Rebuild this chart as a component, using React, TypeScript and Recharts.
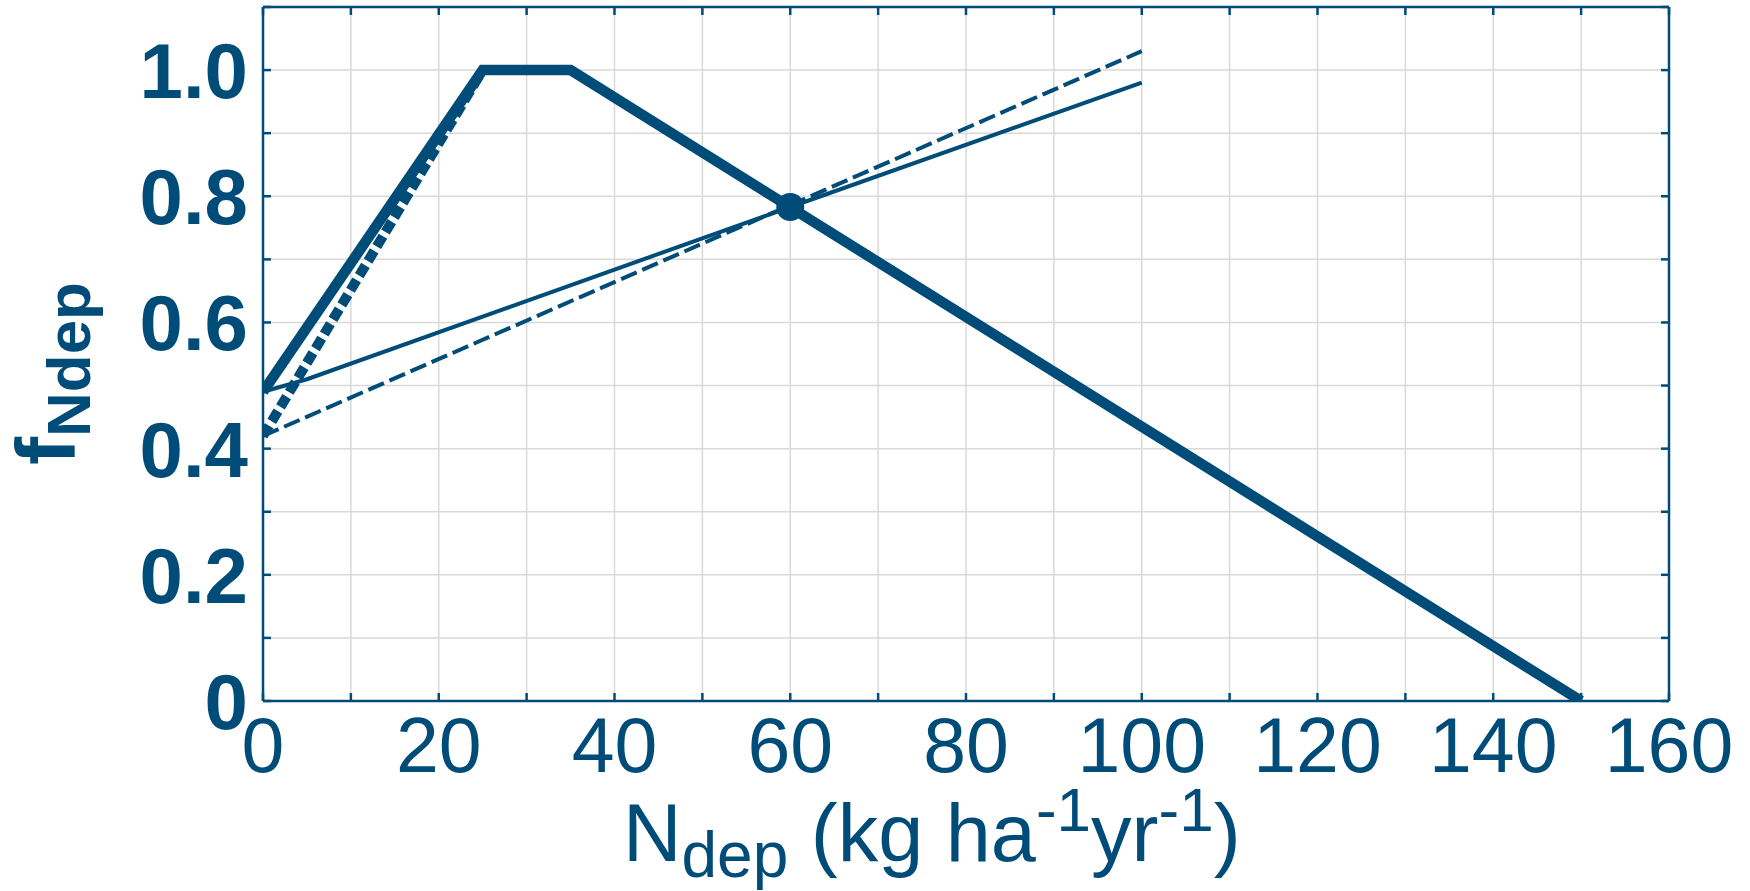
import React from 'react';
import { ComposedChart, Line, Scatter, XAxis, YAxis, CartesianGrid, Label } from 'recharts';

const BLUE = '#004c78';
const GRID = '#d9d9d9';
const FONT = '"Liberation Sans", Arial, Helvetica, sans-serif';

// axis ticks
const xTicks = [0, 10, 20, 30, 40, 50, 60, 70, 80, 90, 100, 110, 120, 130, 140, 150, 160];
const yTicks = [0, 0.1, 0.2, 0.3, 0.4, 0.5, 0.6, 0.7, 0.8, 0.9, 1.0, 1.1];
const xLabelValues = [0, 20, 40, 60, 80, 100, 120, 140, 160];
const xTickLabels = ['0', '20', '40', '60', '80', '100', '120', '140', '160'];
const yLabelValues = [0, 0.2, 0.4, 0.6, 0.8, 1.0];
const yTickLabels = ['0', '0.2', '0.4', '0.6', '0.8', '1.0'];

// series (Ndep, fNdep)
const thickX = [0, 25, 35, 150];
const thickY = [0.49, 1.0, 1.0, 0];
const dottedX = [0, 25];
const dottedY = [0.42, 1.0];
const thinX = [0, 5, 60, 100];
const thinY = [0.49, 0.51, 0.783, 0.98];
const dashedX = [0, 100];
const dashedY = [0.42, 1.03];
const markX = [60];
const markY = [0.783];

const zip = (xs: number[], ys: number[]) => xs.map((x, i) => ({ x, y: ys[i] }));
const thickData = zip(thickX, thickY);
const dottedData = zip(dottedX, dottedY);
const thinData = zip(thinX, thinY);
const dashedData = zip(dashedX, dashedY);
const markData = zip(markX, markY);

const findIdx = (arr: number[], v: number) => arr.findIndex((a) => Math.abs(a - v) < 1e-9);

const TICK_LEN = 8;
const TICK_W = 2.5;

const BottomTick = (props: any) => {
  const { x, y, payload } = props;
  const i = findIdx(xLabelValues, payload.value);
  return (
    <g>
      <line x1={x} y1={y} x2={x} y2={y - TICK_LEN} stroke={BLUE} strokeWidth={TICK_W} />
      {i >= 0 && (
        <text x={x} y={y + 71} textAnchor="middle" fill={BLUE} fontFamily={FONT} fontSize={77}>
          {xTickLabels[i]}
        </text>
      )}
    </g>
  );
};

const TopTick = (props: any) => {
  const { x, y } = props;
  return <line x1={x} y1={y} x2={x} y2={y + TICK_LEN} stroke={BLUE} strokeWidth={TICK_W} />;
};

const LeftTick = (props: any) => {
  const { x, y, payload } = props;
  const i = findIdx(yLabelValues, payload.value);
  return (
    <g>
      <line x1={x} y1={y} x2={x + TICK_LEN} y2={y} stroke={BLUE} strokeWidth={TICK_W} />
      {i >= 0 && (
        <text x={x - 15} y={y + 28} textAnchor="end" fill={BLUE} fontFamily={FONT} fontSize={78} fontWeight="bold">
          {yTickLabels[i]}
        </text>
      )}
    </g>
  );
};

const RightTick = (props: any) => {
  const { x, y } = props;
  return <line x1={x} y1={y} x2={x - TICK_LEN} y2={y} stroke={BLUE} strokeWidth={TICK_W} />;
};

const XTitle = () => (
  <text x={623} y={861} fill={BLUE} fontFamily={FONT} fontSize={81}>
    <tspan>N</tspan>
    <tspan fontSize={64} dy={16}>dep</tspan>
    <tspan dy={-16}>{' (kg ha'}</tspan>
    <tspan fontSize={62} dy={-30}>-1</tspan>
    <tspan dy={30}>yr</tspan>
    <tspan fontSize={62} dy={-30}>-1</tspan>
    <tspan dy={30}>)</tspan>
  </text>
);

const YTitle = () => (
  <text
    x={75}
    y={465}
    transform="rotate(-90, 75, 465)"
    fill={BLUE}
    fontFamily={FONT}
    fontSize={84}
    fontWeight="bold"
  >
    <tspan>f</tspan>
    <tspan fontSize={62} dy={15}>Ndep</tspan>
  </text>
);

const MarkShape = (p: any) => <circle cx={p.cx} cy={p.cy} r={14} fill={BLUE} />;

export default function App() {
  return (
    <div style={{ position: 'absolute', left: 0, top: 0, width: 1750, height: 891, background: '#fff' }}>
      <ComposedChart width={1750} height={891} margin={{ top: 6, right: 80, bottom: 189, left: 262 }}>
        <CartesianGrid stroke={GRID} strokeWidth={1.5} />
        <XAxis
          xAxisId={0}
          dataKey="x"
          type="number"
          domain={[0, 160]}
          ticks={xTicks}
          interval={0}
          allowDataOverflow
          height={1}
          tickSize={0}
          tickMargin={0}
          tickLine={false}
          axisLine={{ stroke: BLUE, strokeWidth: 2.5 }}
          tick={<BottomTick />}
        >
          <Label content={<XTitle />} />
        </XAxis>
        <XAxis
          xAxisId="top"
          orientation="top"
          dataKey="x"
          type="number"
          domain={[0, 160]}
          ticks={xTicks}
          interval={0}
          allowDataOverflow
          height={1}
          tickSize={0}
          tickMargin={0}
          tickLine={false}
          axisLine={{ stroke: BLUE, strokeWidth: 2.5 }}
          tick={<TopTick />}
        />
        <YAxis
          yAxisId={0}
          type="number"
          domain={[0, 1.1]}
          ticks={yTicks}
          interval={0}
          allowDataOverflow
          width={1}
          tickSize={0}
          tickMargin={0}
          tickLine={false}
          axisLine={{ stroke: BLUE, strokeWidth: 2.5 }}
          tick={<LeftTick />}
        >
          <Label content={<YTitle />} />
        </YAxis>
        <YAxis
          yAxisId="right"
          orientation="right"
          type="number"
          domain={[0, 1.1]}
          ticks={yTicks}
          interval={0}
          allowDataOverflow
          width={1}
          tickSize={0}
          tickMargin={0}
          tickLine={false}
          axisLine={{ stroke: BLUE, strokeWidth: 2.5 }}
          tick={<RightTick />}
        />
        <Line data={dashedData} dataKey="y" type="linear" stroke={BLUE} strokeWidth={4} strokeDasharray="17 6" dot={false} isAnimationActive={false} />
        <Line data={thinData} dataKey="y" type="linear" stroke={BLUE} strokeWidth={4} dot={false} isAnimationActive={false} />
        <Line data={dottedData} dataKey="y" type="linear" stroke={BLUE} strokeWidth={10} strokeDasharray="12 5" dot={false} isAnimationActive={false} />
        <Line data={thickData} dataKey="y" type="linear" stroke={BLUE} strokeWidth={10.5} dot={false} isAnimationActive={false} />
        <Scatter data={markData} dataKey="y" fill={BLUE} shape={<MarkShape />} isAnimationActive={false} />
      </ComposedChart>
    </div>
  );
}
